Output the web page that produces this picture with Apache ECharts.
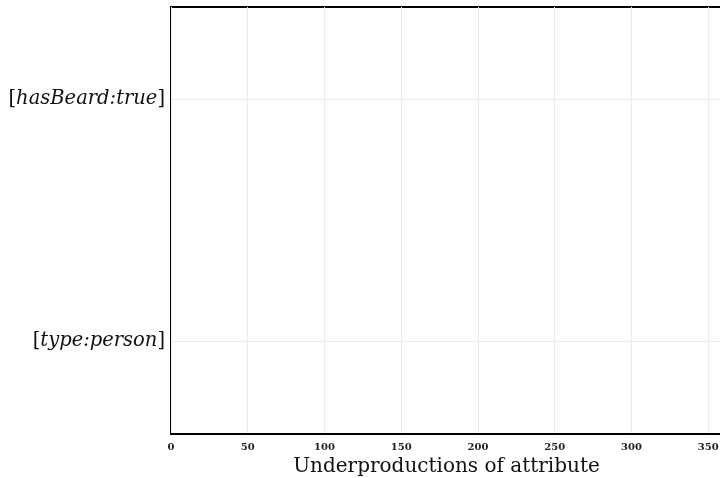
<!DOCTYPE html>
<html>
<head>
<meta charset="utf-8">
<script src="https://cdn.jsdelivr.net/npm/echarts@6/dist/echarts.min.js"></script>
<style>html,body{margin:0;padding:0;background:#fff;overflow:hidden}#c{width:720px;height:478px}</style>
</head>
<body>
<div id="c"></div>
<script>
var categories = ['type:person', 'hasBeard:true'];
var values = [0, 0];
var xMin = 0, xMax = 359, xStep = 50;
var xTitle = 'Underproductions of attribute';

var chart = echarts.init(document.getElementById('c'), null, {renderer: 'canvas'});
var serif = 'DejaVu Serif';
chart.setOption({
  animation: false,
  grid: [
    {left: 171, right: -2, top: 7, bottom: 44, show: true, borderColor: '#000', borderWidth: 2, outerBoundsMode: 'none', containLabel: false},
    {left: 171, right: -2, top: 99, bottom: 137, outerBoundsMode: 'none', containLabel: false}
  ],
  xAxis: [
    {gridIndex: 0, type: 'value', min: xMin, max: xMax, interval: xStep,
     axisLine: {show: true, lineStyle: {color: '#000', width: 2}}, axisTick: {show: false},
     splitLine: {show: true, lineStyle: {color: '#ebebeb', width: 1}},
     axisLabel: {margin: 8, fontFamily: serif, fontWeight: 'bold', fontSize: 10, color: '#222',
       formatter: function (v) { return v % xStep === 0 ? String(v) : ''; }},
     name: xTitle, nameLocation: 'middle', nameGap: 21,
     nameTextStyle: {fontFamily: serif, fontSize: 20, color: '#111'}},
    {gridIndex: 1, type: 'value', min: xMin, max: xMax, show: false}
  ],
  yAxis: [
    {gridIndex: 0, type: 'value', min: 0, max: 1, show: false},
    {gridIndex: 1, type: 'category', data: categories, boundaryGap: false,
     axisLine: {show: false}, axisTick: {show: false},
     splitLine: {show: true, lineStyle: {color: '#ebebeb', width: 1}},
     axisLabel: {margin: 6, formatter: function (v) { return '{b|[}{i|' + v + '}{b|]}'; },
       rich: {
         b: {fontFamily: serif, fontSize: 19.5, color: '#111'},
         i: {fontFamily: serif, fontStyle: 'italic', fontSize: 19.5, color: '#111'}
       }}}
  ],
  series: [
    {type: 'bar', xAxisIndex: 1, yAxisIndex: 1, data: values, itemStyle: {color: '#4c72b0'}}
  ]
});
</script>
</body>
</html>
